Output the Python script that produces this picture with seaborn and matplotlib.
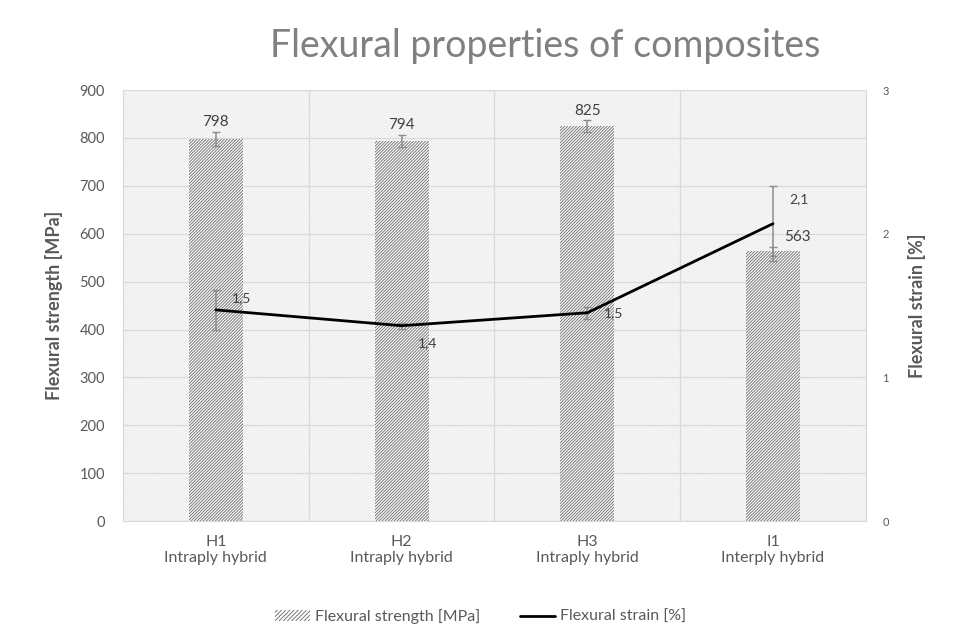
import matplotlib
matplotlib.use('Agg')
import matplotlib.pyplot as plt
import matplotlib.patches as mpatches
import matplotlib.lines as mlines
import seaborn as sns
import numpy as np
import pandas as pd

#data
samples = ['H1\nIntraply hybrid', 'H2\nIntraply hybrid', 'H3\nIntraply hybrid', 'I1\nInterply hybrid']
strength = [798, 794, 825, 563]
strength_err = [15, 13, 12, 10]
strain = [1.47, 1.36, 1.45, 2.07]
strain_err = [0.14, 0.02, 0.04, 0.26]
strain_labels = ['1,5', '1,4', '1,5', '2,1']

df = pd.DataFrame({'sample': samples, 'strength': strength, 'strain': strain})

sns.set_style('white')
plt.rcParams['font.family'] = ['Lato', 'DejaVu Sans']
plt.rcParams['hatch.linewidth'] = 0.7

grey_txt = '#595959'
grid_col = '#d9d9d9'

fig = plt.figure(figsize=(9.61, 6.34), dpi=100)
ax = fig.add_axes([0.128, 0.178, 0.773, 0.680])

#hatched plot background
ax.patch.set_facecolor('white')
ax.patch.set_edgecolor('#e6e6e6')
ax.patch.set_hatch('\\' * 12)
ax.patch.set_linewidth(0)

#bars
sns.barplot(data=df, x='sample', y='strength', color='white', width=0.29,
            edgecolor='#777777', linewidth=0, ax=ax, zorder=3)
for bar in ax.patches:
    bar.set_hatch('/' * 11)
ax.errorbar(range(len(samples)), strength, yerr=strength_err, fmt='none',
            ecolor='#8c8c8c', elinewidth=1.1, capsize=3, zorder=4)
lab_dx = [0, 0, 0, 0.13]
for i, v in enumerate(strength):
    ax.text(i + lab_dx[i], v + strength_err[i] + 5, str(v), ha='center', va='bottom',
            fontsize=11, color='#404040', zorder=5)

ax.set_xlim(-0.5, 3.5)
ax.set_ylim(0, 900)
ax.set_yticks(range(0, 901, 100))
ax.set_axisbelow(True)
ax.grid(axis='y', color=grid_col, linewidth=0.9, zorder=1)
ax.set_xticks([0.5, 1.5, 2.5], minor=True)
ax.grid(axis='x', which='minor', color=grid_col, linewidth=0.9, zorder=1)
ax.tick_params(axis='x', which='minor', length=6, color=grid_col, width=0.9)
ax.tick_params(axis='x', which='major', length=0, labelsize=11.5, labelcolor=grey_txt, pad=10)
ax.tick_params(axis='y', length=0, labelsize=10.5, labelcolor=grey_txt, pad=13)
ax.set_xlabel('')
ax.set_ylabel('Flexural strength [MPa]', fontsize=13, fontweight='bold', color=grey_txt, labelpad=12)
for s in ax.spines.values():
    s.set_color(grid_col)
ax.spines['top'].set_visible(False)

#strain line on secondary axis
ax2 = ax.twinx()
sns.lineplot(data=df, x='sample', y='strain', color='black', linewidth=2, ax=ax2, zorder=5)
ax2.errorbar(range(len(samples)), strain, yerr=strain_err, fmt='none',
             ecolor='#8c8c8c', elinewidth=1.1, capsize=3, zorder=4)
offsets = [(0.14, 0.08), (0.14, -0.12), (0.14, 0.0), (0.14, 0.17)]
for i, lab in enumerate(strain_labels):
    ax2.text(i + offsets[i][0], strain[i] + offsets[i][1], lab, ha='center', va='center',
             fontsize=10, color='#404040', zorder=6)
ax2.set_ylim(0, 3)
ax2.set_yticks([0, 1, 2, 3])
ax2.tick_params(axis='y', length=0, labelsize=8, labelcolor=grey_txt, pad=12)
ax2.set_ylabel('Flexural strain [%]', fontsize=13, fontweight='bold', color=grey_txt, labelpad=14)
ax2.set_xlabel('')
for s in ax2.spines.values():
    s.set_visible(False)

fig.text(0.567, 0.928, 'Flexural properties of composites', ha='center', va='center',
         fontsize=27, color='#808080')

h1 = mpatches.Patch(facecolor='white', edgecolor='#777777', hatch='/' * 8, linewidth=0,
                    label='Flexural strength [MPa]')
h2 = mlines.Line2D([], [], color='black', linewidth=2, label='Flexural strain [%]')
fig.legend(handles=[h1, h2], loc='center', bbox_to_anchor=(0.5, 0.027), ncol=2, frameon=False,
           fontsize=11.5, labelcolor=grey_txt, handlelength=2.2, columnspacing=2.5, handletextpad=0.3)

fig.savefig('out.png', dpi=100)
